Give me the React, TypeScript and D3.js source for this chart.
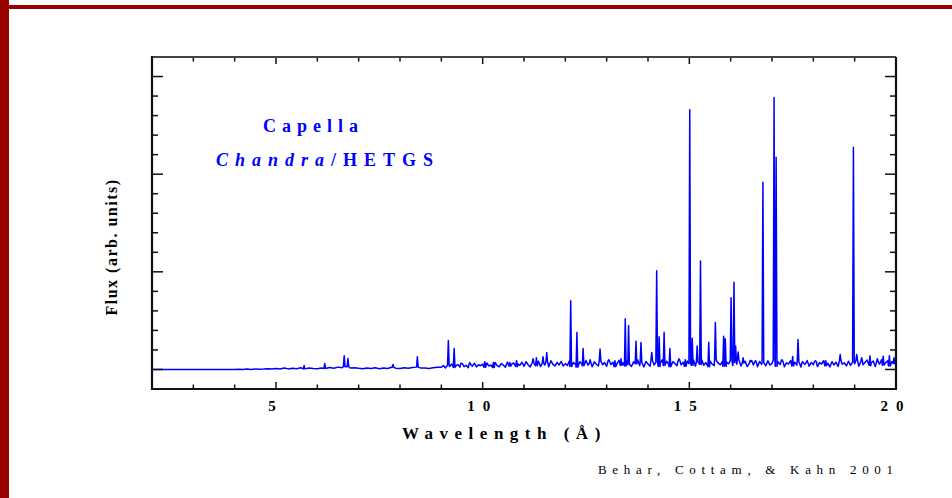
import { useMemo } from 'react';
import * as d3 from 'd3';

// continuum below 9 Å, one value every 0.1 Å from 2.0 Å (arb. units)
const contLowStart = 2;
const contLowStep = 0.1;
const continuumLow = [
  0, 0, 0, 0, 0, 0, 0, 0, 0, 0,
  0, 0, 0, 0, 0, 0, 0, 0, 0, 0,
  0, 0.01, 0, 0.02, 0, 0.03, 0.01, 0.02, 0.04, 0.02,
  0.05, 0.02, 0.08, 0.03, 0.06, 0.04, 0.09, 0.03, 0.07, 0.05,
  0.04, 0.08, 0.05, 0.1, 0.06, 0.12, 0.09, 0.14, 0.07, 0.09,
  0.06, 0.04, 0.08, 0.05, 0.09, 0.04, 0.07, 0.05, 0.11, 0.06,
  0.05, 0.09, 0.06, 0.1, 0.12, 0.07, 0.08, 0.05, 0.09, 0.11,
];

// continuum from 9 Å, one value every 0.05 Å (arb. units)
const contHighStart = 9;
const contHighStep = 0.05;
const continuumHigh = [
  0.12, 0.2, 0.08, 0.22, 0.15, 0.28, 0.1, 0.18, 0.25, 0.12, 0.3, 0.14, 0.21, 0.09, 0.26, 0.17, 0.32, 0.13, 0.24, 0.19,
  0.27, 0.11, 0.33, 0.18, 0.23, 0.1, 0.36, 0.2, 0.14, 0.3, 0.22, 0.12, 0.38, 0.17, 0.26, 0.34, 0.15, 0.29, 0.21, 0.37,
  0.16, 0.4, 0.24, 0.13, 0.35, 0.28, 0.19, 0.42, 0.15, 0.31, 0.22, 0.38, 0.14, 0.45, 0.26, 0.18, 0.36, 0.23, 0.41, 0.17,
  0.3, 0.2, 0.44, 0.15, 0.36, 0.25, 0.12, 0.4, 0.28, 0.19, 0.46, 0.22, 0.33, 0.14, 0.39, 0.27, 0.18, 0.43, 0.24, 0.35,
  0.16, 0.42, 0.25, 0.37, 0.14, 0.3, 0.47, 0.21, 0.34, 0.18, 0.44, 0.26, 0.15, 0.39, 0.29, 0.48, 0.2, 0.36, 0.13, 0.41,
  0.28, 0.17, 0.45, 0.23, 0.38, 0.15, 0.33, 0.5, 0.2, 0.42, 0.27, 0.14, 0.4, 0.31, 0.19, 0.46, 0.24, 0.37, 0.16, 0.43,
  0.3, 0.21, 0.48, 0.17, 0.39, 0.26, 0.5, 0.22, 0.35, 0.14, 0.44, 0.28, 0.19, 0.47, 0.32, 0.24, 0.41, 0.16, 0.38, 0.29,
  0.45, 0.2, 0.36, 0.27, 0.49, 0.18, 0.33, 0.42, 0.15, 0.3, 0.46, 0.23, 0.38, 0.14, 0.41, 0.26, 0.35, 0.19, 0.44, 0.22,
  0.31, 0.47, 0.16, 0.39, 0.25, 0.43, 0.14, 0.34, 0.28, 0.45, 0.18, 0.37, 0.22, 0.4, 0.13, 0.33, 0.26, 0.46, 0.17, 0.36,
  0.24, 0.41, 0.15, 0.35, 0.28, 0.45, 0.19, 0.32, 0.13, 0.4, 0.23, 0.37, 0.16, 0.44, 0.27, 0.34, 0.18, 0.42, 0.21, 0.38,
  0.29, 0.46, 0.17, 0.4, 0.24, 0.36, 0.48, 0.2, 0.33, 0.43, 0.15, 0.39, 0.27, 0.5, 0.22, 0.35, 0.45, 0.18, 0.41, 0.3,
  0.38,
];

// emission lines: wavelength (Å) and peak flux (arb. units)
const lineWave = [
  5.68, 6.18, 6.65, 6.74, 7.83, 8.42, 9.17, 9.31, 9.49, 9.69,
  10.05, 10.26, 10.66, 10.82, 11.22, 11.3, 11.46, 11.55, 12.13, 12.28,
  12.43, 12.6, 12.84, 13.05, 13.2, 13.35, 13.45, 13.53, 13.71, 13.83,
  14.09, 14.21, 14.27, 14.39, 14.53, 14.75, 14.9, 15.01, 15.07, 15.19,
  15.27, 15.47, 15.63, 15.83, 15.87, 16.01, 16.08, 16.12, 16.18, 16.3,
  16.49, 16.6, 16.78, 17.05, 17.1, 17.24, 17.5, 17.63, 17.74, 18.05,
  18.3, 18.65, 18.97, 19.05, 19.17, 19.37, 19.55, 19.69, 19.84, 19.95,
];
const linePeak = [
  0.2, 0.3, 0.7, 0.56, 0.25, 0.65, 1.48, 1.07, 0.32, 0.35,
  0.4, 0.36, 0.36, 0.45, 0.55, 0.6, 0.65, 0.87, 3.52, 1.89,
  1.07, 0.5, 1.05, 0.5, 0.45, 0.55, 2.6, 2.25, 1.45, 1.38,
  0.87, 5.05, 1.68, 1.9, 1.07, 0.55, 0.5, 13.3, 1.6, 1.2,
  5.56, 1.4, 2.4, 1.7, 1.57, 3.67, 4.47, 1.2, 0.9, 0.6,
  0.4, 0.45, 9.59, 13.93, 10.87, 0.5, 0.66, 1.53, 0.4, 0.45,
  0.45, 0.77, 11.38, 0.77, 0.6, 0.7, 0.55, 0.68, 0.7, 0.6,
];

const xLabelValues = [5, 10, 15, 20];
const spikeHalfWidth = 0.02;

const serif = "'Liberation Serif', 'Times New Roman', serif";
const blue = '#0000ff';

export default function App() {
  const width = 952;
  const height = 498;

  const x = d3.scaleLinear().domain([2, 20]).range([152, 896]);
  const y = d3.scaleLinear().domain([-1, 16]).range([389, 57]);

  const path = useMemo(() => {
    const near = (l: number) => lineWave.some((w) => Math.abs(w - l) < spikeHalfWidth * 1.2);
    const cAt = (l: number) =>
      l < contHighStart
        ? continuumLow[Math.round((l - contLowStart) / contLowStep)] ?? 0
        : continuumHigh[Math.round((l - contHighStart) / contHighStep)] ?? 0;
    const pts: [number, number][] = [
      ...continuumLow.map((v, i) => [contLowStart + i * contLowStep, v] as [number, number]),
      ...continuumHigh.map((v, i) => [contHighStart + i * contHighStep, v] as [number, number]),
    ].filter(([l]) => !near(l));
    lineWave.forEach((w, i) => {
      const b = cAt(w);
      pts.push([w - spikeHalfWidth, b], [w, linePeak[i]], [w + spikeHalfWidth, b]);
    });
    pts.sort((a, b) => a[0] - b[0]);
    return d3
      .line<[number, number]>()
      .x((d) => x(d[0]))
      .y((d) => y(d[1]))(pts);
  }, []);

  const [x0, x1] = x.range();
  const [yb, yt] = y.range();

  const xMinor = x.ticks(18).filter((t) => t > 2 && t < 20);
  const xMajor = x.ticks(4).filter((t) => t < 20);
  const yMinor = y.ticks(17).filter((t) => t > -1 && t < 16);
  const yMajor = y.ticks(3);

  return (
    <svg
      width={width}
      height={height}
      style={{ position: 'absolute', left: 0, top: 0, background: '#fff' }}
    >
      {/* page decoration */}
      <rect x={0} y={0} width={9} height={height} fill="#990000" />
      <rect x={0} y={5} width={width} height={4} fill="#990000" />

      {/* spectrum */}
      <path d={path ?? ''} fill="none" stroke={blue} strokeWidth={1.5} strokeLinejoin="round" />

      {/* ticks */}
      <g stroke="#111" strokeWidth={1.5}>
        {xMinor.map((t) => (
          <g key={'x' + t}>
            <line x1={x(t)} x2={x(t)} y1={yb} y2={yb - (xMajor.includes(t) ? 7 : 4.5)} />
            <line x1={x(t)} x2={x(t)} y1={yt} y2={yt + (xMajor.includes(t) ? 7 : 4.5)} />
          </g>
        ))}
        {yMinor.map((t) => (
          <g key={'y' + t}>
            <line x1={x0} x2={x0 + (yMajor.includes(t) ? 11 : 6)} y1={y(t)} y2={y(t)} />
            <line x1={x1} x2={x1 - (yMajor.includes(t) ? 11 : 6)} y1={y(t)} y2={y(t)} />
          </g>
        ))}
      </g>

      {/* frame */}
      <line x1={x0} x2={x1} y1={yt} y2={yt} stroke="#444" strokeWidth={2} />
      <line x1={x1} x2={x1} y1={yt} y2={yb} stroke="#111" strokeWidth={2.2} />
      <line x1={x0} x2={x0} y1={yt - 1} y2={yb + 1} stroke="#111" strokeWidth={2.2} />
      <line x1={x0} x2={x1 + 1} y1={yb} y2={yb} stroke="#111" strokeWidth={2.2} />

      {/* tick labels */}
      {xLabelValues.map((v) => (
        <text
          key={v}
          x={x(v)}
          y={411}
          textAnchor="middle"
          fontFamily={serif}
          fontWeight="bold"
          fontSize={15}
          letterSpacing={8}
        >
          {String(v)}
        </text>
      ))}

      {/* axis titles */}
      <text
        x={402}
        y={439}
        fontFamily={serif}
        fontWeight="bold"
        fontSize={17}
        letterSpacing={6.5}
      >
        Wavelength (Å)
      </text>
      <text
        transform="translate(117,247) rotate(-90)"
        textAnchor="middle"
        fontFamily={serif}
        fontWeight="bold"
        fontSize={16}
        letterSpacing={1.5}
      >
        Flux (arb. units)
      </text>

      {/* annotation */}
      <text x={263} y={132} fill={blue} fontFamily={serif} fontWeight="bold" fontSize={18} letterSpacing={6}>
        Capella
      </text>
      <text x={216} y={166} fill={blue} fontFamily={serif} fontWeight="bold" fontSize={18} letterSpacing={7}>
        <tspan fontStyle="italic">Chandra</tspan>
        <tspan>/HETGS</tspan>
      </text>

      <text x={598} y={474} fontFamily={serif} fontSize={13} letterSpacing={5.7}>
        Behar, Cottam, &amp; Kahn 2001
      </text>
    </svg>
  );
}
